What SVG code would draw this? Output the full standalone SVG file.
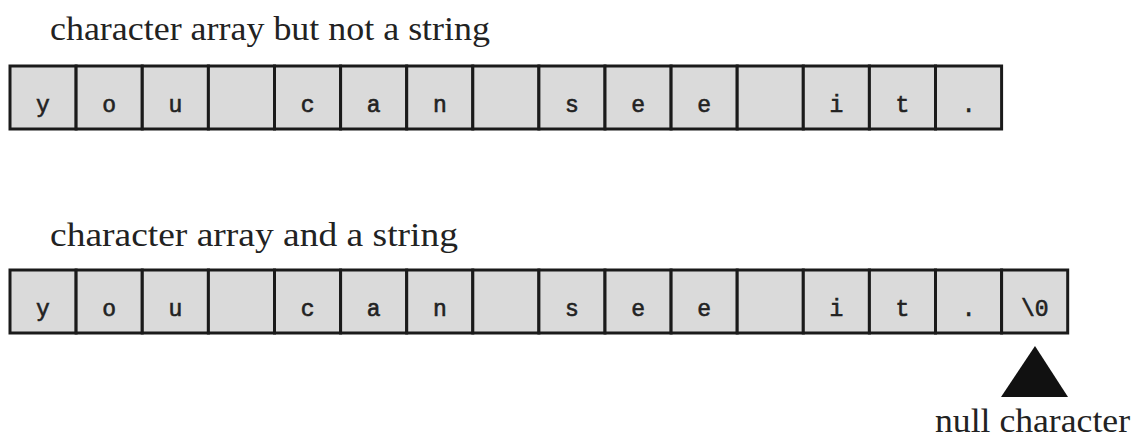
<svg xmlns="http://www.w3.org/2000/svg" width="1137" height="439" viewBox="0 0 1137 439">
<style>
.lbl{font-family:"Liberation Serif","Times New Roman",serif;font-size:34px;fill:#222}
.cell rect{fill:#dadada;stroke:#1a1a1a;stroke-width:3}
.cell text{font-family:"Liberation Mono","Courier New",monospace;font-size:23px;fill:#222;stroke:#222;stroke-width:0.6;text-anchor:middle}
</style>
<rect width="1137" height="439" fill="#fff"/>
<text class="lbl" x="50" y="40" textLength="440" lengthAdjust="spacingAndGlyphs">character array but not a string</text>
<g id="array1" class="cell">
<rect x="10" y="66" width="66.1" height="63"/><text x="43" y="112">y</text>
<rect x="76.1" y="66" width="66.1" height="63"/><text x="109.2" y="112">o</text>
<rect x="142.3" y="66" width="66.1" height="63"/><text x="175.3" y="112">u</text>
<rect x="208.4" y="66" width="66.1" height="63"/>
<rect x="274.5" y="66" width="66.1" height="63"/><text x="307.6" y="112">c</text>
<rect x="340.6" y="66" width="66.1" height="63"/><text x="373.7" y="112">a</text>
<rect x="406.7" y="66" width="66.1" height="63"/><text x="439.8" y="112">n</text>
<rect x="472.8" y="66" width="66.1" height="63"/>
<rect x="538.9" y="66" width="66.1" height="63"/><text x="572" y="112">s</text>
<rect x="605" y="66" width="66.1" height="63"/><text x="638.1" y="112">e</text>
<rect x="671.1" y="66" width="66.1" height="63"/><text x="704.2" y="112">e</text>
<rect x="737.2" y="66" width="66.1" height="63"/>
<rect x="803.3" y="66" width="66.1" height="63"/><text x="836.4" y="112">i</text>
<rect x="869.4" y="66" width="66.1" height="63"/><text x="902.5" y="112">t</text>
<rect x="935.5" y="66" width="66.1" height="63"/><text x="968.6" y="112">.</text>
</g>
<text class="lbl" x="50" y="246" textLength="408" lengthAdjust="spacingAndGlyphs">character array and a string</text>
<g id="array2" class="cell">
<rect x="10" y="270" width="66.1" height="63"/><text x="43" y="316">y</text>
<rect x="76.1" y="270" width="66.1" height="63"/><text x="109.2" y="316">o</text>
<rect x="142.3" y="270" width="66.1" height="63"/><text x="175.3" y="316">u</text>
<rect x="208.4" y="270" width="66.1" height="63"/>
<rect x="274.5" y="270" width="66.1" height="63"/><text x="307.6" y="316">c</text>
<rect x="340.6" y="270" width="66.1" height="63"/><text x="373.7" y="316">a</text>
<rect x="406.7" y="270" width="66.1" height="63"/><text x="439.8" y="316">n</text>
<rect x="472.8" y="270" width="66.1" height="63"/>
<rect x="538.9" y="270" width="66.1" height="63"/><text x="572" y="316">s</text>
<rect x="605" y="270" width="66.1" height="63"/><text x="638.1" y="316">e</text>
<rect x="671.1" y="270" width="66.1" height="63"/><text x="704.2" y="316">e</text>
<rect x="737.2" y="270" width="66.1" height="63"/>
<rect x="803.3" y="270" width="66.1" height="63"/><text x="836.4" y="316">i</text>
<rect x="869.4" y="270" width="66.1" height="63"/><text x="902.5" y="316">t</text>
<rect x="935.5" y="270" width="66.1" height="63"/><text x="968.6" y="316">.</text>
<rect x="1001.6" y="270" width="66.1" height="63"/><text x="1034.7" y="316">\0</text>
</g>
<g id="null-pointer">
<polygon points="1035,346 1001,397 1068,397" fill="#111"/>
<text class="lbl" x="935" y="432" textLength="195" lengthAdjust="spacingAndGlyphs">null character</text>
</g>
</svg>
